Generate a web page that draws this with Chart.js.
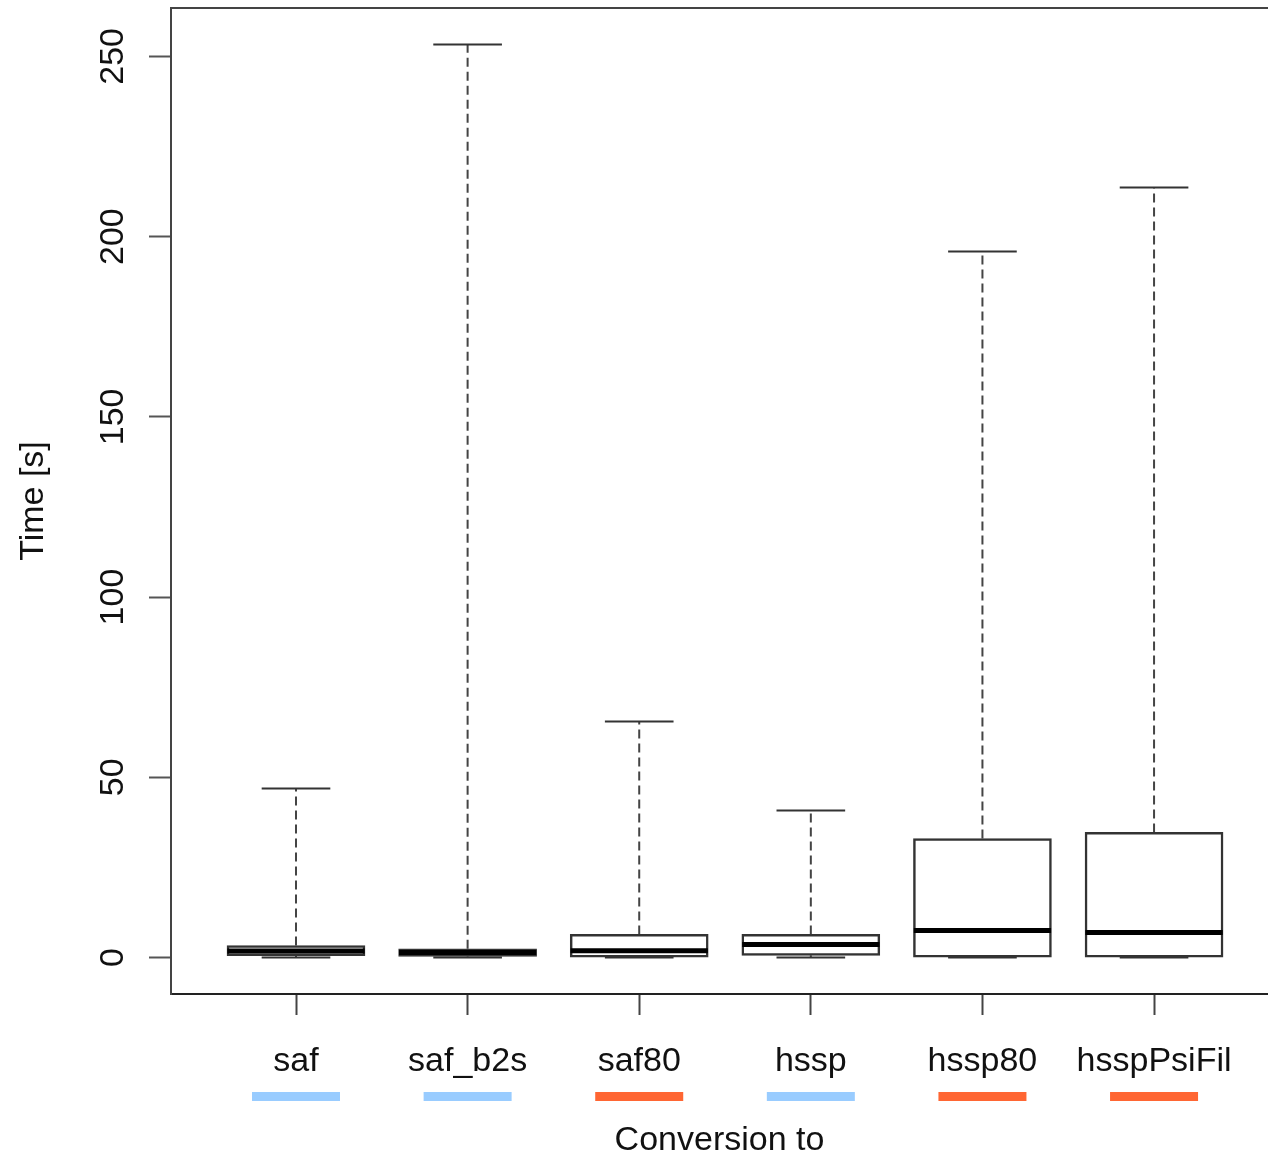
<!DOCTYPE html>
<html>
<head>
<meta charset="utf-8">
<script src="https://cdn.jsdelivr.net/npm/chart.js@4.4.0/dist/chart.umd.min.js"></script>
<style>
  body { margin: 0; background: #fff; }
  #wrap { width: 1268px; height: 1158px; }
</style>
</head>
<body>
<div id="wrap"><canvas id="myChart"></canvas></div>
<script>
// box plot data, one entry per conversion target
var categories = ['saf', 'saf_b2s', 'saf80', 'hssp', 'hssp80', 'hsspPsiFil'];
var whiskerMin = [0, 0, 0, 0, 0, 0];
var q1 = [0.5, 0.3, 0.1, 0.6, 0.1, 0.1];
var median = [1.8, 1.4, 1.9, 3.6, 7.5, 6.9];
var q3 = [3.3, 2.4, 6.4, 6.4, 33.0, 34.7];
var whiskerMax = [46.9, 253.3, 65.5, 40.8, 195.9, 213.6];
var groupColors = ['#99CCFF', '#99CCFF', '#FF6633', '#99CCFF', '#FF6633', '#FF6633'];
var yTicks = [0, 50, 100, 150, 200, 250];

// build segment lists (null breaks the line between boxes)
var whiskerPts = [], capPts = [], medianPts = [], boxPts = [];
categories.forEach(function (c, i) {
    var x = i + 1;
    whiskerPts.push({x: x, y: q3[i]}, {x: x, y: whiskerMax[i]}, {x: x, y: null});
    whiskerPts.push({x: x, y: q1[i]}, {x: x, y: whiskerMin[i]}, {x: x, y: null});
    capPts.push({x: x - 0.2, y: whiskerMax[i]}, {x: x + 0.2, y: whiskerMax[i]}, {x: x, y: null});
    capPts.push({x: x - 0.2, y: whiskerMin[i]}, {x: x + 0.2, y: whiskerMin[i]}, {x: x, y: null});
    medianPts.push({x: x - 0.4, y: median[i]}, {x: x + 0.4, y: median[i]}, {x: x, y: null});
    boxPts.push({x: x, y: [q1[i], q3[i]]});
});

// frame top line + colour bars under the category labels
var extras = {
    id: 'extras',
    afterDraw: function (chart) {
        var ctx = chart.ctx, a = chart.chartArea, xs = chart.scales.x;
        ctx.save();
        ctx.strokeStyle = '#444';
        ctx.lineWidth = 2;
        ctx.beginPath();
        ctx.moveTo(a.left, a.top);
        ctx.lineTo(a.right, a.top);
        ctx.stroke();
        categories.forEach(function (c, i) {
            var px = xs.getPixelForValue(i + 1);
            ctx.fillStyle = groupColors[i];
            ctx.fillRect(px - 44, 1092, 88, 9);
        });
        ctx.restore();
    }
};

Chart.defaults.font.family = '"Liberation Sans", Arial, sans-serif';
Chart.defaults.font.size = 34;
Chart.defaults.color = '#111';

var ctx = document.getElementById('myChart').getContext('2d');
var chart = new Chart(ctx, {
    type: 'bar',
    data: {
        datasets: [{
            type: 'line',
            data: whiskerPts,
            borderColor: '#444',
            borderWidth: 2,
            borderDash: [9, 5],
            pointRadius: 0,
            spanGaps: false,
            order: 4
        }, {
            type: 'line',
            data: capPts,
            borderColor: '#333',
            borderWidth: 2,
            pointRadius: 0,
            spanGaps: false,
            order: 3
        }, {
            type: 'bar',
            data: boxPts,
            backgroundColor: '#ffffff',
            borderColor: '#333',
            borderWidth: 2.5,
            borderSkipped: false,
            barThickness: 138,
            order: 2
        }, {
            type: 'line',
            data: medianPts,
            borderColor: '#000',
            borderWidth: 5,
            pointRadius: 0,
            spanGaps: false,
            order: 1
        }]
    },
    options: {
        responsive: true,
        maintainAspectRatio: false,
        animation: false,
        layout: { padding: { top: 8, right: 0, left: 0, bottom: 0 } },
        plugins: { legend: { display: false }, tooltip: { enabled: false } },
        scales: {
            x: {
                type: 'linear',
                offset: false,
                min: 0.2716,
                max: 6.664,
                afterBuildTicks: function (scale) {
                    scale.ticks = categories.map(function (c, i) { return {value: i + 1}; });
                },
                afterFit: function (scale) {
                    scale.height = 164;
                    scale.paddingLeft = 0;
                    scale.paddingRight = 0;
                },
                ticks: {
                    padding: 26,
                    maxRotation: 0,
                    callback: function (v) { return categories[v - 1]; }
                },
                grid: { offset: false, drawOnChartArea: false, drawTicks: true, tickLength: 21, tickColor: '#444', tickWidth: 2 },
                border: { display: true, color: '#222', width: 2 },
                title: {
                    display: true,
                    text: 'Conversion to',
                    font: { size: 34, lineHeight: 1.0 },
                    padding: { top: 0, bottom: 0 }
                }
            },
            y: {
                min: -10.13,
                max: 263.43,
                afterBuildTicks: function (scale) {
                    scale.ticks = yTicks.map(function (v) { return {value: v}; });
                },
                afterFit: function (scale) {
                    scale.width = 171;
                    scale.paddingTop = 0;
                    scale.paddingBottom = 0;
                },
                ticks: {
                    minRotation: 90,
                    maxRotation: 90,
                    crossAlign: 'center',
                    padding: 7
                },
                grid: { drawOnChartArea: false, drawTicks: true, tickLength: 22, tickColor: '#555', tickWidth: 2 },
                border: { display: true, color: '#444', width: 2 },
                title: {
                    display: true,
                    text: 'Time [s]',
                    padding: { top: 13, bottom: 0 }
                }
            }
        }
    },
    plugins: [extras]
});
</script>
</body>
</html>
